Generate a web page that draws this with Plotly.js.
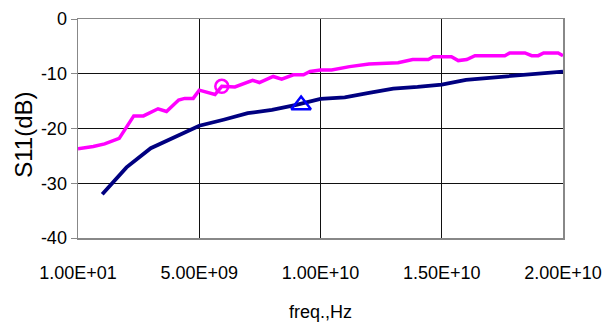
<!DOCTYPE html>
<html>
<head>
<meta charset="utf-8">
<script src="https://cdn.plot.ly/plotly-3.0.1.min.js"></script>
<style>
  html, body { margin: 0; padding: 0; background: #fff; }
  #chart { width: 604px; height: 324px; }
</style>
</head>
<body>
<div id="chart"></div>
<script>
// Magenta series (S11 measured)
const freqMagenta = [1e1, 6.3e8, 1.1e9, 1.7e9, 2.3e9, 2.7e9, 3.3e9, 3.65e9, 4.15e9, 4.4e9, 4.75e9, 5.0e9, 5.65e9, 5.93e9, 6.47e9, 7.2e9, 7.48e9, 8.05e9, 8.4e9, 8.88e9, 9.3e9, 9.57e9, 1.0e10, 1.046e10, 1.12e10, 1.2e10, 1.32e10, 1.38e10, 1.445e10, 1.465e10, 1.54e10, 1.568e10, 1.603e10, 1.637e10, 1.76e10, 1.78e10, 1.843e10, 1.871e10, 1.898e10, 1.92e10, 1.98e10, 2.0e10];
const s11Magenta = [-23.7, -23.3, -22.8, -21.8, -17.7, -17.7, -16.4, -16.9, -14.8, -14.5, -14.5, -13.0, -13.8, -12.3, -12.4, -11.2, -11.6, -10.5, -11.0, -10.2, -10.2, -9.6, -9.3, -9.3, -8.7, -8.2, -8.0, -7.4, -7.4, -6.9, -6.9, -7.6, -7.4, -6.7, -6.7, -6.2, -6.2, -6.7, -6.7, -6.2, -6.2, -6.7];

// Navy series (S11 simulated)
const freqNavy = [1e9, 2e9, 3e9, 4e9, 5e9, 6e9, 7e9, 8e9, 9e9, 1e10, 1.1e10, 1.2e10, 1.3e10, 1.4e10, 1.5e10, 1.6e10, 1.7e10, 1.8e10, 1.9e10, 2e10];
const s11Navy = [-32.0, -27.1, -23.6, -21.5, -19.5, -18.4, -17.2, -16.6, -15.7, -14.6, -14.3, -13.5, -12.7, -12.4, -12.0, -11.1, -10.7, -10.3, -10.0, -9.6];

// Single markers
const circleFreq = [5.93e9];
const circleS11 = [-12.3];
const triangleFreq = [9.2e9];
const triangleS11 = [-15.7];

// Axis labels
const xTickVals = [1e1, 5e9, 1e10, 1.5e10, 2e10];
const xTickText = ['1.00E+01', '5.00E+09', '1.00E+10', '1.50E+10', '2.00E+10'];
const xGridVals = [5e9, 1e10, 1.5e10];
const yTickVals = [-40, -30, -20, -10, 0];
const yTickText = ['-40', '-30', '-20', '-10', '0'];
const xTitle = 'freq.,Hz';
const yTitle = 'S11(dB)';

const font = 'Liberation Sans, Arial, sans-serif';

const traces = [
  { x: freqMagenta, y: s11Magenta, mode: 'lines', line: { color: '#FF00FF', width: 3.5 }, hoverinfo: 'skip' },
  { x: freqNavy, y: s11Navy, mode: 'lines', line: { color: '#000080', width: 3.8 }, hoverinfo: 'skip' },
  { x: circleFreq, y: circleS11, mode: 'markers', marker: { symbol: 'circle-open', size: 13, color: '#FF00FF', line: { width: 2.5, color: '#FF00FF' } } },
  { x: triangleFreq, y: triangleS11, mode: 'markers', marker: { symbol: 'triangle-up-open', size: 17, color: '#0000FF', line: { width: 2.5, color: '#0000FF' } } },
  // invisible trace hosting the grid-only axis
  { x: [xGridVals[0]], y: [-20], xaxis: 'x2', mode: 'markers', marker: { opacity: 0 }, hoverinfo: 'skip' }
];

const layout = {
  width: 604, height: 324,
  margin: { l: 78, r: 41, t: 19, b: 86 },
  paper_bgcolor: '#fff', plot_bgcolor: '#fff',
  showlegend: false,
  font: { family: font, color: '#000' },
  xaxis: {
    range: [1e1, 2e10],
    tickvals: xTickVals, ticktext: xTickText,
    tickfont: { family: font, size: 18, color: '#000' },
    ticks: '', ticklabelstandoff: 18,
    showgrid: false,
    zeroline: false,
    showline: true, linecolor: '#888', linewidth: 1.5, mirror: true
  },
  xaxis2: {
    overlaying: 'x', side: 'bottom', anchor: 'y',
    range: [1e1, 2e10],
    tickvals: xGridVals,
    showticklabels: false, ticks: '',
    showgrid: true, gridcolor: '#111', gridwidth: 1,
    zeroline: false, showline: false
  },
  yaxis: {
    range: [-40, 0],
    tickvals: yTickVals, ticktext: yTickText,
    ticks: 'outside', ticklen: 6, tickcolor: '#888', tickwidth: 1,
    tickfont: { family: font, size: 18, color: '#000' },
    showgrid: true, gridcolor: '#111', gridwidth: 1,
    zeroline: false,
    showline: true, linecolor: '#888', linewidth: 1.5, mirror: true
  },
  annotations: [
    { text: xTitle, xref: 'paper', yref: 'paper', x: 0.5, y: -0.338, xanchor: 'center', yanchor: 'middle', showarrow: false, font: { family: font, size: 18, color: '#000' } },
    { text: yTitle, xref: 'paper', yref: 'paper', x: -0.114, y: 0.47, xanchor: 'center', yanchor: 'middle', textangle: -90, showarrow: false, font: { family: font, size: 24, color: '#000' } }
  ]
};

Plotly.newPlot('chart', traces, layout, { staticPlot: true, displayModeBar: false });
</script>
</body>
</html>
